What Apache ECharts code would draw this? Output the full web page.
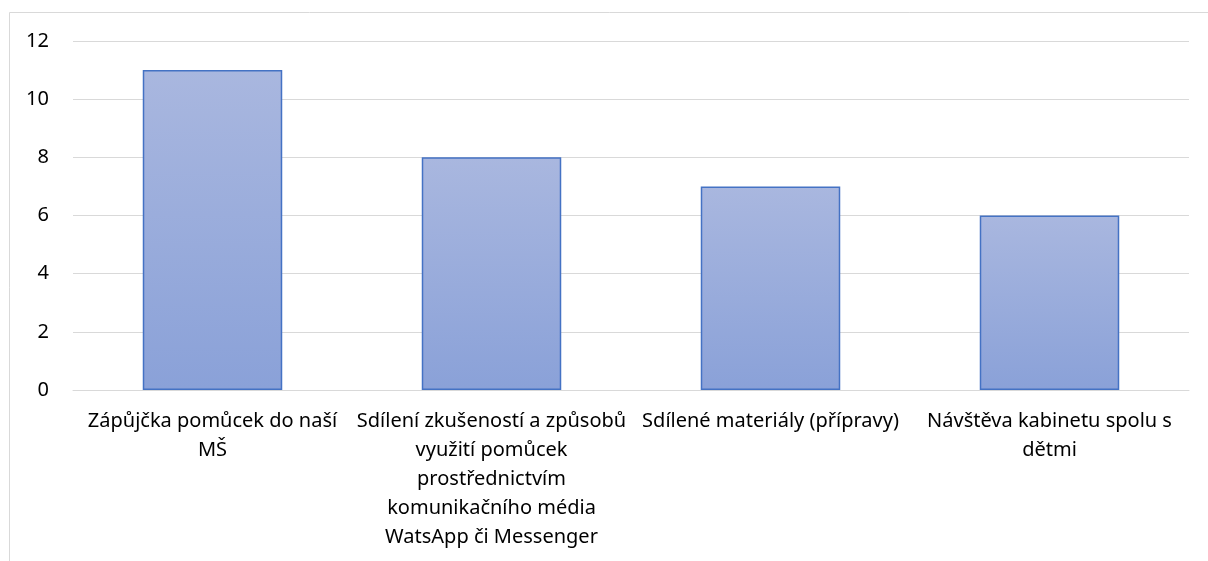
<!DOCTYPE html>
<html><head><meta charset="utf-8">
<script src="https://cdn.jsdelivr.net/npm/echarts@6/dist/echarts.min.js"></script>
<style>html,body{margin:0;padding:0;background:#fff}#c{width:1208px;height:561px}</style>
</head><body><div id="c"></div>
<script>
const categories = [
  "Zápůjčka pomůcek do naší\nMŠ",
  "Sdílení zkušeností a způsobů\nvyužití pomůcek\nprostřednictvím\nkomunikačního média\nWatsApp či Messenger",
  "Sdílené materiály (přípravy)",
  "Návštěva kabinetu spolu s\ndětmi"
];
const values = [11, 8, 7, 6];
const yMin = 0, yMax = 12, yStep = 2;

const chart = echarts.init(document.getElementById('c'), null, {renderer: 'canvas'});
chart.setOption({
  animation: false,
  backgroundColor: '#fff',
  textStyle: {fontFamily: 'Noto Sans'},
  graphic: [{
    type: 'rect', silent: true,
    shape: {x: 9.5, y: 12.5, width: 1400, height: 1000},
    style: {fill: 'none', stroke: '#d9d9d9', lineWidth: 1}
  }],
  grid: {left: 73, right: 19, top: 41, bottom: 171, containLabel: false},
  xAxis: {
    type: 'category', data: categories,
    axisLine: {show: true, lineStyle: {color: '#d9d9d9', width: 1}},
    axisTick: {show: false},
    axisLabel: {interval: 0, color: '#000', fontSize: 20, lineHeight: 29, margin: 17, fontFamily: 'Noto Sans'}
  },
  yAxis: {
    type: 'value', min: yMin, max: yMax, interval: yStep,
    axisLine: {show: false}, axisTick: {show: false},
    splitLine: {lineStyle: {color: '#d9d9d9', width: 1}},
    axisLabel: {color: '#000', fontSize: 20, margin: 24, fontFamily: 'Noto Sans'}
  },
  series: [{
    type: 'bar', data: values, barWidth: '50%',
    itemStyle: {
      color: new echarts.graphic.LinearGradient(0, 0, 0, 1, [
        {offset: 0, color: '#a9b7df'}, {offset: 1, color: '#8aa1d8'}
      ]),
      borderColor: '#4472c4', borderWidth: 1.5
    }
  }]
});
</script></body></html>
